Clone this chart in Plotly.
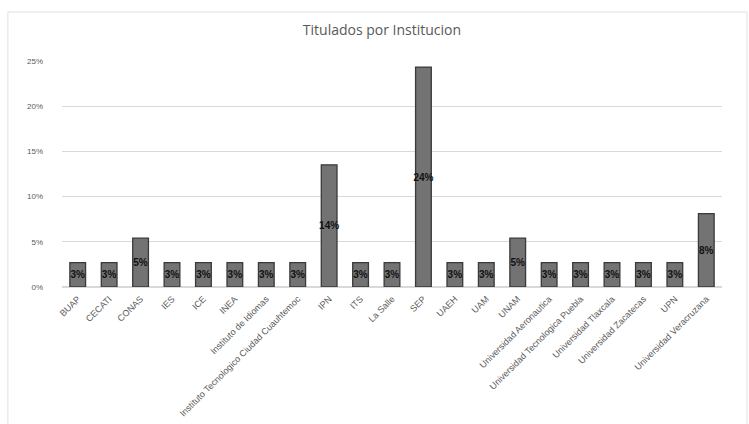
import plotly.graph_objects as go

instituciones = [
    "BUAP", "CECATI", "CONAS", "IES", "ICE", "INEA",
    "Instituto de Idiomas", "Instituto Tecnologico Ciudad Cuauhtemoc",
    "IPN", "ITS", "La Salle", "SEP", "UAEH", "UAM", "UNAM",
    "Universidad Aeronautica", "Universidad Tecnologica Puebla",
    "Universidad Tlaxcala", "Universidad Zacatecas", "UPN",
    "Universidad Veracruzana",
]
titulados = [1, 1, 2, 1, 1, 1, 1, 1, 5, 1, 1, 9, 1, 1, 2, 1, 1, 1, 1, 1, 3]
total = sum(titulados)
porcentajes = [v / total for v in titulados]

fig = go.Figure()
fig.add_trace(go.Bar(
    x=instituciones,
    y=porcentajes,
    marker=dict(color="#737373", line=dict(color="#3a3a3a", width=1.3)),
    text=[f"<b>{p:.0%}</b>" for p in porcentajes],
    textposition="inside",
    insidetextanchor="middle",
    textfont=dict(family="Liberation Sans, Arial", size=10, color="#111111"),
    textangle=0,
    width=0.5,
))

fig.update_layout(
    width=749, height=424,
    margin=dict(l=62, r=27, t=61, b=137),
    paper_bgcolor="white",
    plot_bgcolor="white",
    title=dict(text="Titulados por Institucion", x=0.51, xanchor="center",
               y=0.93, yanchor="middle",
               font=dict(family="Open Sans, Liberation Sans", size=14, color="#595959")),
    showlegend=False,
    uniformtext=dict(minsize=8, mode="show"),
)
fig.update_yaxes(
    range=[0, 0.25], dtick=0.05, tickformat=".0%",
    showgrid=True, gridcolor="#d9d9d9", gridwidth=1,
    zeroline=True, zerolinecolor="#d9d9d9",
    tickfont=dict(family="Liberation Sans, Arial", size=8, color="#595959"),
    ticks="", showline=False, ticklabelstandoff=18, automargin=False,
)
fig.update_xaxes(
    tickangle=-45,
    tickfont=dict(family="Liberation Sans, Arial", size=9, color="#595959"),
    showline=False, ticks="", ticklabelstandoff=4, automargin=False,
)
fig.add_shape(type="rect", xref="paper", yref="paper",
              x0=-0.082, y0=-0.65, x1=1.038, y1=1.217,
              line=dict(color="#e0e0e0", width=1), layer="below")

fig.write_html("out.html")
